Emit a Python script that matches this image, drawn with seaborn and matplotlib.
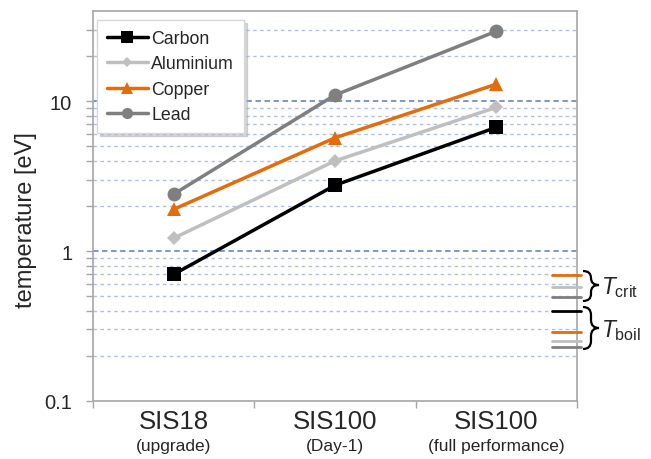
import numpy as np
import pandas as pd
import matplotlib
matplotlib.use("Agg")
import matplotlib.pyplot as plt
from matplotlib.path import Path
from matplotlib.patches import PathPatch
from matplotlib.ticker import FixedLocator, FixedFormatter, NullFormatter
from matplotlib.lines import Line2D
import seaborn as sns

# ---- data -----------------------------------------------------------------
stages = ["SIS18", "SIS100", "SIS100"]
stage_notes = ["(upgrade)", "(Day-1)", "(full performance)"]
materials = ["Carbon", "Aluminium", "Copper", "Lead"]

carbon = [0.70, 2.75, 6.7]
aluminium = [1.22, 4.0, 9.1]
copper = [1.9, 5.7, 13.0]
lead = [2.4, 11.0, 29.3]

# critical and boiling temperatures [eV]
t_crit_materials = ["Copper", "Aluminium", "Lead"]
t_crit = [0.695, 0.578, 0.496]
t_boil_materials = ["Carbon", "Copper", "Aluminium", "Lead"]
t_boil = [0.40, 0.287, 0.25, 0.228]

# ---- styling --------------------------------------------------------------
colors = {"Carbon": "#000000", "Aluminium": "#bfbfbf",
          "Copper": "#e46c0a", "Lead": "#7f7f7f"}
markers = {"Carbon": "s", "Aluminium": "D", "Copper": "^", "Lead": "o"}
marker_sizes = {"Carbon": 10, "Aluminium": 7, "Copper": 10, "Lead": 10}

sns.set_theme(style="white")
plt.rcParams["font.family"] = ["Liberation Sans", "DejaVu Sans"]
plt.rcParams["mathtext.fontset"] = "custom"
plt.rcParams["mathtext.rm"] = "Liberation Sans"
plt.rcParams["mathtext.it"] = "Liberation Sans:italic"

df = pd.DataFrame({
    "stage": np.tile(np.arange(len(stages)), len(materials)),
    "material": np.repeat(materials, len(stages)),
    "temperature": carbon + aluminium + copper + lead,
})

W, H = 651, 460
fig = plt.figure(figsize=(W / 100, H / 100), dpi=100)
ax_l, ax_r, ax_t, ax_b = 93, 577, 12, 402
ax = fig.add_axes([ax_l / W, 1 - ax_b / H, (ax_r - ax_l) / W, (ax_b - ax_t) / H])

ax.set_yscale("log")
ax.set_ylim(0.1, 40)
ax.set_xlim(-0.5, len(stages) - 0.5)

# horizontal dashed grid
minor_vals = [m * 10.0 ** e for e in (-1, 0, 1) for m in range(2, 10) if m * 10.0 ** e < 40]
for v in minor_vals:
    ax.axhline(v, color="#aebfe0", lw=1.0, ls=(0, (2.5, 2.5)), zorder=0)
for v in (1, 10):
    ax.axhline(v, color="#6f8fcc", lw=1.3, ls=(0, (3, 2)), zorder=0)

sns.lineplot(data=df, x="stage", y="temperature", hue="material",
             style="material", hue_order=materials, style_order=materials,
             palette=colors, markers=markers, dashes=False, lw=2.5,
             markeredgewidth=0, ax=ax, legend=False, zorder=3)
for line, m in zip(ax.lines[-len(materials):], materials):
    line.set_markersize(marker_sizes[m])
    line.set_markeredgecolor(colors[m])

# short markers for critical and boiling temperatures on the right edge
xt = ax.get_yaxis_transform()
for m, v in zip(t_crit_materials, t_crit):
    ax.plot([0.948, 1.008], [v, v], color=colors[m], lw=2, transform=xt,
            clip_on=False, zorder=4)
for m, v in zip(t_boil_materials, t_boil):
    ax.plot([0.948, 1.008], [v, v], color=colors[m], lw=2, transform=xt,
            clip_on=False, zorder=4)


def brace(x0, yt, yb, ym, w):
    """Right-facing curly brace in pixel coordinates (y downward)."""
    q = min(w / 2, (ym - yt) / 2)
    xm = x0 + w / 2
    pts = [(x0, yt), (xm, yt), (xm, yt + q), (xm, ym - q), (xm, ym), (x0 + w, ym),
           (xm, ym), (xm, ym + q), (xm, yb - q), (xm, yb), (x0, yb)]
    codes = [Path.MOVETO, Path.CURVE3, Path.CURVE3, Path.LINETO, Path.CURVE3, Path.CURVE3,
             Path.CURVE3, Path.CURVE3, Path.LINETO, Path.CURVE3, Path.CURVE3]
    pts = [(x / W, 1 - y / H) for x, y in pts]
    fig.patches.append(PathPatch(Path(pts, codes), transform=fig.transFigure,
                                 fill=False, lw=1.6, ec="black", figure=fig))


brace(583, 272, 302, 286, 16)
brace(583, 308, 350, 329, 16)
fig.text(601 / W, 1 - 294 / H, r"$T_\mathrm{crit}$", fontsize=16.5, va="baseline", ha="left")
fig.text(601 / W, 1 - 337 / H, r"$T_\mathrm{boil}$", fontsize=16.5, va="baseline", ha="left")

# axes, ticks, labels
ax.yaxis.set_major_locator(FixedLocator([0.1, 1, 10]))
ax.yaxis.set_major_formatter(FixedFormatter(["0.1", "1", "10"]))
ax.yaxis.set_minor_locator(FixedLocator(minor_vals))
ax.yaxis.set_minor_formatter(NullFormatter())
ax.tick_params(axis="y", which="both", left=True, length=5, width=1,
               color="#a6a6a6", labelsize=14.5, pad=10)

ax.set_xticks(range(len(stages)))
ax.set_xticklabels(stages, fontsize=18.5)
ax.xaxis.set_minor_locator(FixedLocator(np.arange(-0.5, len(stages), 1.0)))
ax.tick_params(axis="x", which="major", length=0, pad=6)
ax.tick_params(axis="x", which="minor", bottom=True, length=5, width=1, color="#a6a6a6")
for i, note in enumerate(stage_notes):
    ax.text(i, -0.113, note, transform=ax.get_xaxis_transform(), ha="center",
            va="center", fontsize=12.5)

ax.set_xlabel("")
ax.set_ylabel("temperature [eV]", fontsize=17)
ax.yaxis.set_label_coords((37 - ax_l) / (ax_r - ax_l), (ax_b - 220) / (ax_b - ax_t))

for s in ax.spines.values():
    s.set_color("#a6a6a6")
    s.set_linewidth(1.2)

# legend
handles = [Line2D([], [], color=colors[m], marker=markers[m],
                  markersize=marker_sizes[m] * 0.8, lw=2.5, markeredgewidth=0)
           for m in materials]
leg = fig.legend(handles, materials, loc="upper left",
                 bbox_to_anchor=(97 / W, 1 - 21 / H),
                 borderaxespad=0, fontsize=12.8, frameon=True,
                 shadow={"color": "#b0b0b0", "alpha": 0.5},
                 handlelength=2.3, handletextpad=0.2, labelspacing=0.48,
                 borderpad=0.55, fancybox=False)
leg.get_frame().set_edgecolor("#d8d8d8")
leg.get_frame().set_linewidth(1)
leg.set_zorder(5)

fig.savefig("out.png", dpi=100)
